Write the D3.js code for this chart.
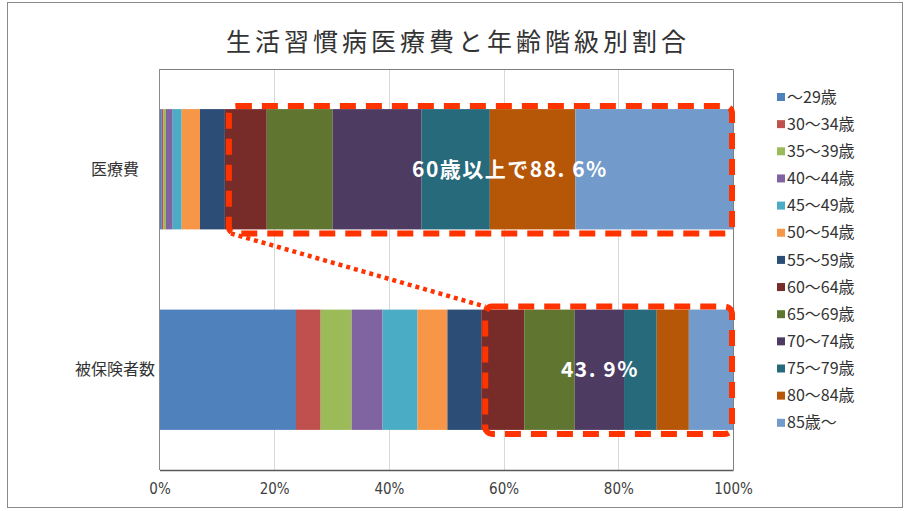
<!DOCTYPE html>
<html>
<head>
<meta charset="utf-8">
<script src="https://cdn.jsdelivr.net/npm/d3@7/dist/d3.min.js"></script>
<style>
  html, body { margin: 0; padding: 0; background: #fff; }
  svg { display: block; font-family: "Noto Sans CJK JP", "Noto Sans", sans-serif; }
</style>
</head>
<body>
<svg id="chart" width="907" height="511"></svg>
<script>
const title = "生活習慣病医療費と年齢階級別割合";
const categories = ["医療費", "被保険者数"];
const ageGroups = ["～29歳", "30～34歳", "35～39歳", "40～44歳", "45～49歳", "50～54歳", "55～59歳",
                   "60～64歳", "65～69歳", "70～74歳", "75～79歳", "80～84歳", "85歳～"];
const medicalCost = [0.4, 0.3, 0.43, 1.17, 1.57, 3.19, 4.34, 7.3, 11.5, 15.5, 11.9, 14.9, 27.5];
const insured     = [23.8, 4.3, 5.4, 5.4, 6.1, 5.2, 5.9, 7.5, 8.8, 8.6, 5.7, 5.6, 7.7];
const colors = ["#4F81BD", "#C0504D", "#9BBB59", "#8064A2", "#4BACC6", "#F79646", "#2C4D75",
                "#772C2A", "#5F7530", "#4D3B62", "#276A7C", "#B65708", "#729ACA"];
const tickValues = [0, 20, 40, 60, 80, 100];
const highlightStart = 7; // index of 60～64歳
const annotations = ["60歳以上で88. 6%", "43. 9%"];
const annotationX = [61.1, 76.8];

const seriesByCat = [medicalCost, insured];
const rows = categories.map((c, i) => {
  const r = { cat: c };
  ageGroups.forEach((g, j) => r[g] = seriesByCat[i][j]);
  return r;
});

const svg = d3.select("#chart");
const W = 907, H = 511;
const m = { left: 159.5, right: 907 - 733, top: 69, bottom: 511 - 470 };

// outer frame
svg.append("rect").attr("x", 7.5).attr("y", 2.5).attr("width", 895).attr("height", 505)
  .attr("fill", "#fff").attr("stroke", "#8a8a8a").attr("stroke-width", 1);

const x = d3.scaleLinear().domain([0, 100]).range([m.left, W - m.right]);
const y = d3.scaleBand().domain(categories).range([m.top, H - m.bottom]).paddingInner(0.4).paddingOuter(0.2);

// title
svg.append("text").attr("x", 458).attr("y", 51).attr("text-anchor", "middle")
  .attr("font-size", 25).attr("letter-spacing", 4).attr("fill", "#333").text(title);

// gridlines
svg.append("g").selectAll("line").data(tickValues.slice(1, -1)).join("line")
  .attr("x1", d => Math.round(x(d)) + 0.5).attr("x2", d => Math.round(x(d)) + 0.5)
  .attr("y1", m.top).attr("y2", H - m.bottom)
  .attr("stroke", "#d9d9d9").attr("stroke-width", 1);

// plot border (top/right)
svg.append("path")
  .attr("d", `M${x(0)},${m.top + 0.5}H${Math.round(x(100)) + 0.5}V${H - m.bottom}`)
  .attr("fill", "none").attr("stroke", "#7f7f7f").attr("stroke-width", 1);

// bars
const stack = d3.stack().keys(ageGroups);
const stacked = stack(rows);
svg.append("g").selectAll("g").data(stacked).join("g")
  .attr("fill", (d, i) => colors[i])
  .selectAll("rect").data(d => d).join("rect")
  .attr("x", d => x(d[0])).attr("width", d => x(d[1]) - x(d[0]))
  .attr("y", d => y(d.data.cat)).attr("height", y.bandwidth());

// axes
const xAxis = d3.axisBottom(x).tickValues(tickValues).tickFormat(d => d + "%").tickSize(0).tickPadding(13);
const gx = svg.append("g").attr("transform", `translate(0,${H - m.bottom})`).call(xAxis);
gx.select(".domain").attr("stroke", "#595959").attr("stroke-width", 1.5);
gx.selectAll("text").attr("font-size", 15).attr("fill", "#404040")
  .attr("font-family", "'DejaVu Sans Condensed', 'Liberation Sans Narrow', sans-serif");

svg.append("line").attr("x1", x(0)).attr("x2", x(0)).attr("y1", m.top).attr("y2", H - m.bottom)
  .attr("stroke", "#8a8a8a").attr("stroke-width", 1);

// category labels
svg.append("g").selectAll("text").data(categories).join("text")
  .attr("x", 115).attr("y", d => y(d) + y.bandwidth() / 2)
  .attr("dy", "0.35em").attr("text-anchor", "middle")
  .attr("font-size", 16).attr("fill", "#333").text(d => d);

// highlight boxes
const cum = (arr, n) => arr.slice(0, n).reduce((a, b) => a + b, 0);
const boxes = seriesByCat.map((arr, i) => {
  const x0 = x(cum(arr, highlightStart)) + 4;
  const x1 = x(100) - 1;
  const y0 = y(categories[i]) - 3;
  const y1 = y(categories[i]) + y.bandwidth() + 4;
  return { x0, x1, y0, y1 };
});
const red = "#FF3300";
svg.append("g").selectAll("rect").data(boxes).join("rect")
  .attr("x", d => d.x0).attr("y", d => d.y0)
  .attr("width", d => d.x1 - d.x0).attr("height", d => d.y1 - d.y0)
  .attr("rx", 7).attr("fill", "none").attr("stroke", red)
  .attr("stroke-width", 6).attr("stroke-dasharray", "16 10");

// dotted connector
svg.append("line")
  .attr("x1", boxes[0].x0 + 2).attr("y1", boxes[0].y1)
  .attr("x2", boxes[1].x0).attr("y2", boxes[1].y0)
  .attr("stroke", red).attr("stroke-width", 4.5).attr("stroke-dasharray", "4 4");

// annotations
svg.append("g").selectAll("text").data(annotations).join("text")
  .attr("x", (d, i) => x(annotationX[i]))
  .attr("y", (d, i) => y(categories[i]) + y.bandwidth() / 2)
  .attr("dy", "0.35em").attr("text-anchor", "middle")
  .attr("font-size", 21).attr("font-weight", "bold").attr("letter-spacing", 1.5).attr("fill", "#fff")
  .text(d => d);

// legend
const lg = svg.append("g").selectAll("g").data(ageGroups).join("g")
  .attr("transform", (d, i) => `translate(777,${97 + i * 27.15})`);
lg.append("rect").attr("x", 0).attr("y", -4).attr("width", 8).attr("height", 8)
  .attr("fill", (d, i) => colors[i]);
lg.append("text").attr("x", 10).attr("dy", "0.35em").attr("font-size", 16)
  .attr("fill", "#333").text(d => d);
</script>
</body>
</html>
